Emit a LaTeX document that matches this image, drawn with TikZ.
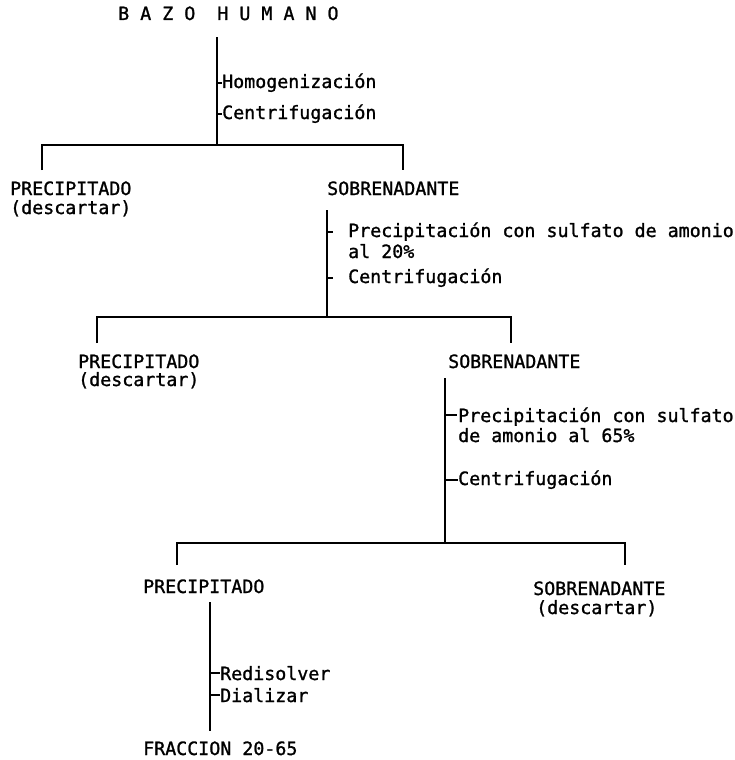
\documentclass[tikz,border=0pt]{standalone}
\usepackage{fontspec}
\newfontfamily\typefont[FakeBold=1.2]{DejaVu Sans Mono}
\usetikzlibrary{positioning,calc}
\tikzset{
  fl/label/.style={anchor=base west, inner sep=0pt,
    font=\typefont\fontsize{18.3}{20}\selectfont},
  fl/step/.style={fl/label},
  fl/line/.style={line width=2.3pt},
  fl/tick/.style={line width=1.8pt}
}

\begin{document}
\begin{tikzpicture}[x=1pt, y=-1pt]
  \useasboundingbox (0,0) rectangle (735,760);

  % level 0
  \node[fl/label] (bazo) at (118,20) {B~A~Z~O~~H~U~M~A~N~O};
  \node[fl/step] (homog) at (222,88) {Homogenización};
  \node[fl/step] (centA) at (222,119) {Centrifugación};

  % level 1
  \node[fl/label] (precA) at (10,195) {PRECIPITADO};
  \node[fl/label] (descA) at ($(precA.base west)+(0,19)$) {(descartar)};
  \node[fl/label] (sobA) at (327,195) {SOBRENADANTE};
  \node[fl/step] (sulfA) at (348,237) {Precipitación con sulfato de amonio};
  \node[fl/step] (pctA) at ($(sulfA.base west)+(0,21)$) {al 20\%};
  \node[fl/step] (centB) at (348,283) {Centrifugación};

  % level 2
  \node[fl/label] (precB) at (78,368) {PRECIPITADO};
  \node[fl/label] (descB) at ($(precB.base west)+(0,18)$) {(descartar)};
  \node[fl/label] (sobB) at (448,368) {SOBRENADANTE};
  \node[fl/step] (sulfB) at (458,422) {Precipitación con sulfato};
  \node[fl/step] (pctB) at ($(sulfB.base west)+(0,20)$) {de amonio al 65\%};
  \node[fl/step] (centC) at (458,485) {Centrifugación};

  % level 3
  \node[fl/label] (precC) at (143,593) {PRECIPITADO};
  \node[fl/label] (sobC) at (533,595) {SOBRENADANTE};
  \node[fl/label] (descC) at ($(sobC.base west)+(3,19)$) {(descartar)};
  \node[fl/step] (redis) at (220,680) {Redisolver};
  \node[fl/step] (dializ) at (220,702) {Dializar};
  \node[fl/label] (frac) at (143,755) {FRACCION 20-65};

  % junctions of the brackets
  \coordinate (j1) at (217,145);
  \coordinate (j1l) at (42,145);
  \coordinate (j1r) at (403,145);
  \coordinate (j2) at (327,317);
  \coordinate (j2l) at (97,317);
  \coordinate (j2r) at (511,317);
  \coordinate (j3) at (445,543);
  \coordinate (j3l) at (177,543);
  \coordinate (j3r) at (625,543);
  \coordinate (j4) at (210,740);

  % stems and brackets
  \draw[fl/line, shorten <=17pt] (bazo.south -| j1) -- (j1);
  \draw[fl/line] (j1l) ++(0,25) -- (j1l) -- (j1r) -- ++(0,25);

  \draw[fl/line, shorten <=15pt] (sobA.south west) -- (j2);
  \draw[fl/line] (j2l) ++(0,26) -- (j2l) -- (j2r) -- ++(0,26);

  \draw[fl/line, shorten <=10pt] (sobB.south west -| j3) -- (j3);
  \draw[fl/line] (j3l) ++(0,22) -- (j3l) -- (j3r) -- ++(0,22);

  \draw[fl/line, shorten <=9pt, shorten >=10pt] (precC.south -| j4) -- (frac.north -| j4);

  % ticks at the steps
  \draw[fl/tick] (homog.west -| j1) -- (homog.west);
  \draw[fl/tick] (centA.west -| j1) -- (centA.west);
  \draw[fl/tick] (j2 |- sulfA.base west) ++(0,-5) -- ++(6,0);
  \draw[fl/tick] (centB.west -| j2) -- ++(6,0);
  \draw[fl/tick] (j3 |- sulfB.base west) ++(0,-7) -- ++(12,0);
  \draw[fl/tick] (centC.west -| j3) -- (centC.west);
  \draw[fl/tick] (redis.west -| j4) -- (redis.west);
  \draw[fl/tick] (dializ.west -| j4) -- (dializ.west);
\end{tikzpicture}
\end{document}
